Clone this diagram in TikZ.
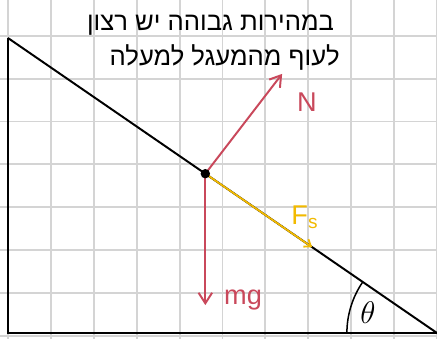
\documentclass[tikz,border=0pt]{standalone}
\usepackage{fontspec}
\setmainfont{Liberation Sans}
\newfontfamily\hebfont[Script=Hebrew]{Liberation Sans}
\TeXXeTstate=1
\usetikzlibrary{arrows.meta}
\definecolor{forcered}{HTML}{C9485B}
\definecolor{fricyellow}{HTML}{F2BA00}
\definecolor{gridgray}{HTML}{D4D4D4}

\begin{document}
\begin{tikzpicture}[
  gridline/.style={gridgray, line width=1.3pt},
  wall/.style={line width=1.3pt},
  force/.style={forcered, line width=1.3pt, -{Straight Barb[length=7pt, width=9pt]}},
  fric/.style={fricyellow, line width=1.2pt, -{Straight Barb[length=4pt, width=6pt]}},
  hand/.style={font=\fontsize{17}{19}\selectfont\hebfont},
  lbl/.style={font=\fontsize{18}{20}\selectfont}
]
  % canvas and grid
  \useasboundingbox (-0.186,-0.117) rectangle (10.0,7.762);
  \fill[white] (-0.186,-0.117) rectangle (10.0,7.762);
  \begin{scope}
    \clip (-0.186,-0.117) rectangle (10.0,7.762);
    \draw[gridline, yshift=-0.07cm] (-1,-1) grid (11,9);
  \end{scope}

  % incline
  \coordinate (base) at (0,0);
  \coordinate (apex) at (0,6.876);
  \coordinate (foot) at (10,0);
  \draw[wall, line width=1.7pt] (apex) -- (base) -- (foot);
  \draw[wall] (apex) -- (foot);

  % body and forces
  \coordinate (block) at (4.6,3.713);
  \coordinate (Ntip) at (6.39,6.04);
  \coordinate (mgtip) at (4.6,0.65);
  \coordinate (Fstip) at (7.09,2.0);
  \draw[fric] (block) -- (Fstip);
  \draw[force] (block) -- (Ntip);
  \draw[force] (block) -- (mgtip);
  \fill (block) circle (0.11);

  % angle
  \draw[line width=1pt] ([shift={(180:2.1)}]foot) arc (180:145.5:2.1);

  % labels
  \node[lbl, forcered] (Nlbl) at (6.97,5.38) {N};
  \node[lbl, forcered] (mglbl) at (5.48,0.77) {mg};
  \node[lbl, fricyellow] (Fslbl) at (6.92,2.70) {F\textsubscript{s}};
  \node[lbl, font=\fontsize{20}{22}\selectfont] (thlbl) at (8.39,0.47) {$\theta$};

  % note
  \node[hand] (note1) at (4.72,7.18) {\beginR במהירות גבוהה יש רצון\endR};
  \node[hand] (note2) at (5.05,6.43) {\beginR לעוף מהמעגל למעלה\endR};
\end{tikzpicture}
\end{document}
